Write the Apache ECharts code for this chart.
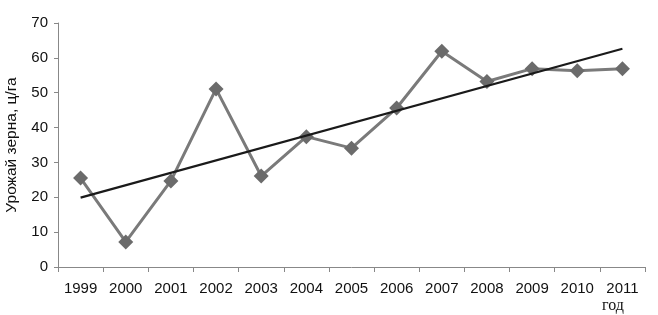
<!DOCTYPE html>
<html><head><meta charset="utf-8">
<script src="https://cdn.jsdelivr.net/npm/echarts@6/dist/echarts.min.js"></script>
<style>html,body{margin:0;padding:0;background:#fff}#c{width:658px;height:315px}</style>
</head><body><div id="c"></div>
<script>
const years = ['1999','2000','2001','2002','2003','2004','2005','2006','2007','2008','2009','2010','2011'];
const yieldValues = [25.5, 7.2, 24.7, 51.1, 26.1, 37.4, 34.1, 45.6, 61.9, 53.2, 56.9, 56.3, 56.9];
const trendEnds = [19.9, 62.6];
const yTicks = [0, 10, 20, 30, 40, 50, 60, 70];

const trendData = years.map((y, i) => i === 0 ? trendEnds[0] : (i === years.length - 1 ? trendEnds[1] : null));

const chart = echarts.init(document.getElementById('c'));
chart.setOption({
  animation: false,
  grid: {left: 58, right: 13, top: 23, bottom: 48, containLabel: false, outerBoundsMode: 'none'},
  xAxis: {
    type: 'category', data: years, boundaryGap: true,
    axisLine: {lineStyle: {color: '#888', width: 1}},
    axisTick: {show: true, length: 5, lineStyle: {color: '#888'}},
    axisLabel: {color: '#111', fontFamily: 'Liberation Sans', fontSize: 15, margin: 14}
  },
  yAxis: {
    type: 'value', min: yTicks[0], max: yTicks[yTicks.length - 1], interval: 10,
    name: 'Урожай зерна, ц/га', nameLocation: 'middle', nameGap: 38,
    nameTextStyle: {color: '#111', fontFamily: 'Liberation Sans', fontSize: 15.5},
    axisLine: {show: true, lineStyle: {color: '#888', width: 1}},
    axisTick: {show: true, length: 4, lineStyle: {color: '#888'}},
    axisLabel: {color: '#111', fontFamily: 'Liberation Sans', fontSize: 15, margin: 10},
    splitLine: {show: false}
  },
  graphic: [{
    type: 'text', left: 602, top: 298,
    style: {text: 'год', font: '16px "Liberation Serif"', fill: '#111'}
  }],
  series: [
    {
      type: 'line', data: yieldValues, symbol: 'diamond', symbolSize: 15,
      lineStyle: {color: '#7a7a7a', width: 3},
      itemStyle: {color: '#6b6b6b'}, z: 2
    },
    {
      type: 'line', data: trendData, connectNulls: true, symbol: 'none',
      lineStyle: {color: '#1a1a1a', width: 2.2}, z: 3
    }
  ]
});
</script></body></html>
